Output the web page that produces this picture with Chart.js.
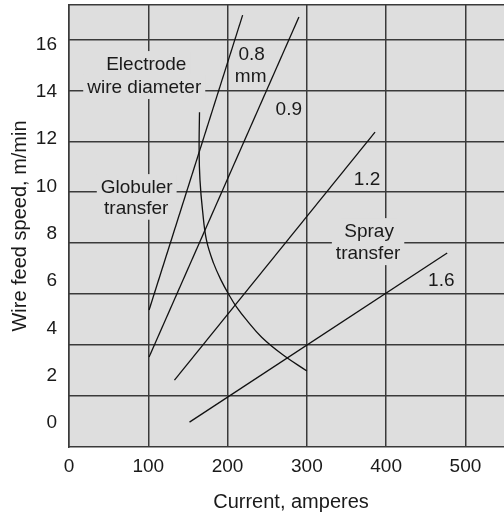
<!DOCTYPE html>
<html>
<head>
<meta charset="utf-8">
<script src="https://cdn.jsdelivr.net/npm/chart.js@4.4.1/dist/chart.umd.min.js"></script>
<style>
    html, body { margin: 0; padding: 0; background: #fff; overflow: hidden; }
    #wrap { width: 513px; height: 514px; }
</style>
</head>
<body>
<div id="wrap"><canvas id="chartWire"></canvas></div>
<script>
// Data: wire diameter lines (mm), current in amperes, speed in m/min
const diameters = ['0.8', '0.9', '1.2', '1.6'];
const currentStart = [101, 101, 133, 152];
const currentEnd = [219, 290, 386, 477];
const speedStart = [4.78, 2.79, 1.82, 0.04];
const speedEnd = [17.24, 17.16, 12.3, 7.19];

// Globular / spray transfer boundary
const boundaryCurrent = [164.6, 164.1, 165.2, 168.4, 173.4, 182.3, 192.4, 201.3, 211.4, 224.1, 243.0, 268.4, 300];
const boundarySpeed = [13.14, 11.54, 10.27, 9.0, 7.73, 6.76, 6.0, 5.45, 4.9, 4.35, 3.63, 2.92, 2.2];

// Axis ticks (labels) and the printed grid (which is offset from labels)
const xTicks = [0, 100, 200, 300, 400, 500];
const yTicks = [0, 2, 4, 6, 8, 10, 12, 14, 16];
const gridSpeeds = [1.14, 3.30, 5.45, 7.61, 9.76, 11.88, 14.03, 16.19];

const X_MIN = 0, X_MAX = 560;
const Y_MIN = -1.01, Y_MAX = 17.67;

// Text written inside the plot (data coordinates, baseline)
const chartLabels = [
    { text: 'Electrode', x: 97.5, y: 14.92, boxed: true },
    { text: 'wire diameter', x: 94.9, y: 13.95, boxed: true },
    { text: 'Globuler', x: 85.4, y: 9.72, boxed: true },
    { text: 'transfer', x: 84.8, y: 8.85, boxed: true },
    { text: '0.8', x: 230.4, y: 15.34 },
    { text: 'mm', x: 229.1, y: 14.41 },
    { text: '0.9', x: 277.2, y: 13.02 },
    { text: '1.2', x: 375.9, y: 10.06 },
    { text: 'Spray', x: 378.5, y: 7.86, boxed: true },
    { text: 'transfer', x: 377.2, y: 6.93, boxed: true },
    { text: '1.6', x: 469.6, y: 5.79 }
];

const FONT = '"Liberation Sans", Arial, sans-serif';
const PLOT_BG = '#dedede';
const INK = '#1a1a1a';
const GRID = '#3a3a3a';

// Build datasets
const datasets = diameters.map((d, i) => ({
    label: d + ' mm',
    data: [
        { x: currentStart[i], y: speedStart[i] },
        { x: currentEnd[i], y: speedEnd[i] }
    ],
    showLine: true,
    borderColor: '#111',
    borderWidth: 1.3,
    pointRadius: 0,
    yAxisID: 'y'
}));

datasets.push({
    label: 'Transfer boundary',
    data: boundaryCurrent.map((c, i) => ({ x: c, y: boundarySpeed[i] })),
    showLine: true,
    borderColor: '#111',
    borderWidth: 1.3,
    pointRadius: 0,
    tension: 0.4,
    yAxisID: 'y'
});

// Plugin: grey plot background
const plotBackground = {
    id: 'plotBackground',
    beforeDraw(chart) {
        const { ctx, chartArea: a } = chart;
        ctx.save();
        ctx.fillStyle = PLOT_BG;
        ctx.fillRect(a.left, a.top, a.right - a.left, a.bottom - a.top);
        ctx.restore();
    }
};

// Plugin: labels inside the plot, some knock out the grid behind them
const curveLabels = {
    id: 'curveLabels',
    beforeDatasetsDraw(chart) {
        const { ctx, scales: { x, y } } = chart;
        ctx.save();
        ctx.font = '19px ' + FONT;
        ctx.textAlign = 'center';
        ctx.textBaseline = 'alphabetic';

        chartLabels.filter(l => l.boxed).forEach(l => {
            const px = x.getPixelForValue(l.x);
            const py = y.getPixelForValue(l.y);
            const w = ctx.measureText(l.text).width;
            ctx.fillStyle = PLOT_BG;
            ctx.fillRect(px - w / 2 - 4, py - 19, w + 8, 25);
        });

        ctx.fillStyle = INK;
        chartLabels.forEach(l => {
            ctx.fillText(l.text, x.getPixelForValue(l.x), y.getPixelForValue(l.y));
        });
        ctx.restore();
    }
};

new Chart(document.getElementById('chartWire').getContext('2d'), {
    type: 'scatter',
    data: { datasets },
    plugins: [plotBackground, curveLabels],
    options: {
        responsive: true,
        maintainAspectRatio: false,
        animation: false,
        devicePixelRatio: 1,
        layout: { padding: { top: 5, left: 0, right: 0, bottom: 0 } },
        plugins: { legend: { display: false }, tooltip: { enabled: false } },
        scales: {
            x: {
                type: 'linear',
                min: X_MIN,
                max: X_MAX,
                afterBuildTicks: s => { s.ticks = xTicks.map(v => ({ value: v })); },
                afterFit: s => { s.height = 67; s.paddingLeft = 0; s.paddingRight = 0; },
                grid: { color: GRID, lineWidth: 1.5, drawTicks: false },
                border: { display: true, color: GRID, width: 1.5 },
                ticks: {
                    color: INK, font: { family: FONT, size: 19 },
                    padding: 8, maxRotation: 0, autoSkip: false
                },
                title: {
                    display: true, text: 'Current, amperes', color: INK,
                    font: { family: FONT, size: 20 },
                    padding: { top: 0, bottom: 0 }
                }
            },
            y: {
                type: 'linear',
                min: Y_MIN,
                max: Y_MAX,
                afterBuildTicks: s => { s.ticks = yTicks.map(v => ({ value: v })); },
                afterFit: s => { s.width = 69; s.paddingTop = 0; s.paddingBottom = 0; },
                grid: { display: false },
                border: { display: true, color: GRID, width: 1.5 },
                ticks: {
                    color: INK, font: { family: FONT, size: 19 },
                    padding: 4, autoSkip: false
                },
                title: {
                    display: true, text: 'Wire feed speed, m/min', color: INK,
                    font: { family: FONT, size: 20 },
                    padding: { top: 8, bottom: 0 }
                }
            },
            yGrid: {
                type: 'linear',
                position: 'left',
                min: Y_MIN,
                max: Y_MAX,
                afterBuildTicks: s => { s.ticks = gridSpeeds.concat([Y_MAX]).map(v => ({ value: v })); },
                afterFit: s => { s.width = 0; s.paddingTop = 0; s.paddingBottom = 0; },
                grid: { color: GRID, lineWidth: 1.5, drawTicks: false },
                border: { display: false },
                ticks: { display: false }
            }
        }
    }
});
</script>
</body>
</html>
